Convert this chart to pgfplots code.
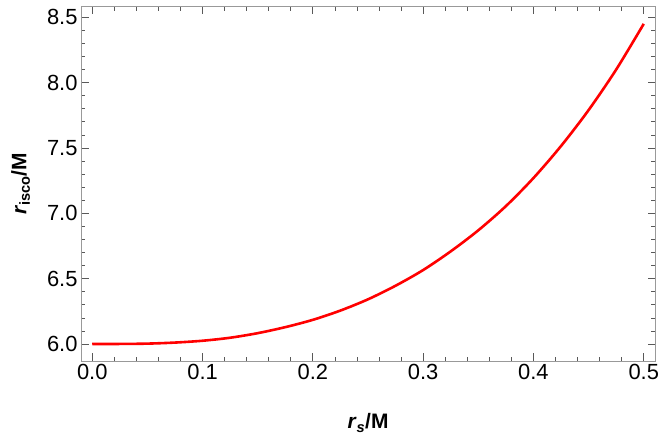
\documentclass[border=0pt]{standalone}
\usepackage{pgfplots}
\pgfplotsset{compat=1.18}
\usepackage{fontspec}
\setmainfont{Liberation Sans}
\definecolor{framegray}{gray}{0.6}
\definecolor{tickgray}{gray}{0.35}
\begin{document}
\begin{tikzpicture}
\path[use as bounding box] (-81bp,-78bp) rectangle (583bp,354.3bp+6.7bp);
\begin{axis}[
  at={(0,0)}, anchor=south west,
  scale only axis,
  width=574bp, height=354.3bp,
  xmin=-0.0102, xmax=0.5102,
  ymin=5.870, ymax=8.5811,
  xtick={0,0.1,0.2,0.3,0.4,0.5},
  ytick={6,6.5,7,7.5,8,8.5},
  minor x tick num=4,
  minor y tick num=4,
  tick align=inside,
  major tick length=7.5bp,
  minor tick length=4.3bp,
  axis line style={framegray, line width=0.9bp},
  every tick/.style={tickgray, line width=0.8bp},
  every minor tick/.style={tickgray, line width=0.7bp},
  /pgf/number format/assume math mode=true,
  xticklabel style={/pgf/number format/.cd, fixed, precision=1, zerofill, /tikz/.cd, font=\fontsize{22}{26}\selectfont, text=black},
  yticklabel style={/pgf/number format/.cd, fixed, precision=1, zerofill, /tikz/.cd, font=\fontsize{22}{26}\selectfont, text=black},
  xlabel={\textbf{\textit{r}\textsubscript{\textit{s}}/M}},
  ylabel={\textbf{\textit{r}\textsubscript{isco}/M}},
  xlabel style={at={(axis description cs:0.5,-0.175)}, anchor=center, font=\fontsize{21}{25}\selectfont},
  ylabel style={at={(axis description cs:-0.105,0.5)}, anchor=center, rotate=0, font=\fontsize{21}{25}\selectfont},
  clip=false,
]
\addplot[red, line width=2.6bp, smooth, tension=0.5] table {
x y
0.000 6.0000
0.025 6.0005
0.050 6.0030
0.075 6.0110
0.100 6.0250
0.125 6.0480
0.150 6.0830
0.175 6.1290
0.200 6.1850
0.225 6.2560
0.250 6.3420
0.275 6.4460
0.300 6.5660
0.325 6.7090
0.350 6.8700
0.375 7.0550
0.400 7.2700
0.425 7.5150
0.450 7.7900
0.475 8.1000
0.500 8.4500
};
\end{axis}
\end{tikzpicture}
\end{document}
